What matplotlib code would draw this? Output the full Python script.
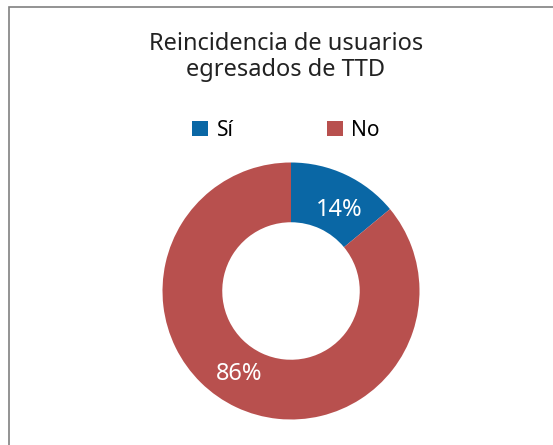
import matplotlib
matplotlib.use("Agg")
import matplotlib.pyplot as plt
from matplotlib.patches import Rectangle, Patch

categories = ["Sí", "No"]
values = [14, 86]
colors = ["#0A67A5", "#B8504E"]
title = "Reincidencia de usuarios\negresados de TTD"

plt.rcParams['font.family'] = ['Noto Sans', 'DejaVu Sans']

W, H = 553, 445
fig = plt.figure(figsize=(W/100, H/100), dpi=100)
fig.patch.set_facecolor("white")

# border
fig.add_artist(Rectangle((8.5/W, -0.1), 1.2, (H-6.5)/H + 0.1, transform=fig.transFigure,
                         fill=False, edgecolor="#808080", linewidth=1.2))

cx, cy, r = 291, H-291, 128.5
ax = fig.add_axes([(cx-r)/W, (cy-r)/H, 2*r/W, 2*r/H])
wedges, texts, autotexts = ax.pie(values, colors=colors, startangle=90, counterclock=False,
                                  radius=1, wedgeprops=dict(width=0.465, linewidth=0),
                                  autopct=lambda p: f"{p:.0f}%", pctdistance=0.76,
                                  textprops=dict(color="white", fontsize=17))
# small label nudges (pixels -> data units, radius = r px)
nudges = [(7, -7), (-10, 5)]
for t, (dx, dy) in zip(autotexts, nudges):
    x, y = t.get_position()
    t.set_position((x + dx / r, y + dy / r))
ax.set_xlim(-1, 1)
ax.set_ylim(-1, 1)
ax.set_aspect("equal")
ax.axis("off")

fig.text(286/W, 1-57/H, title, ha="center", va="center", fontsize=17,
         color="#222222", linespacing=1.12)

handles = [Patch(facecolor=c, edgecolor="none") for c in colors]
fig.legend(handles, categories, loc="center", bbox_to_anchor=(286/W, 1-130/H), ncol=2,
           frameon=False, fontsize=15, handlelength=0.75, handleheight=0.75,
           handletextpad=0.4, columnspacing=4.5)

fig.savefig("out.png", dpi=100)
